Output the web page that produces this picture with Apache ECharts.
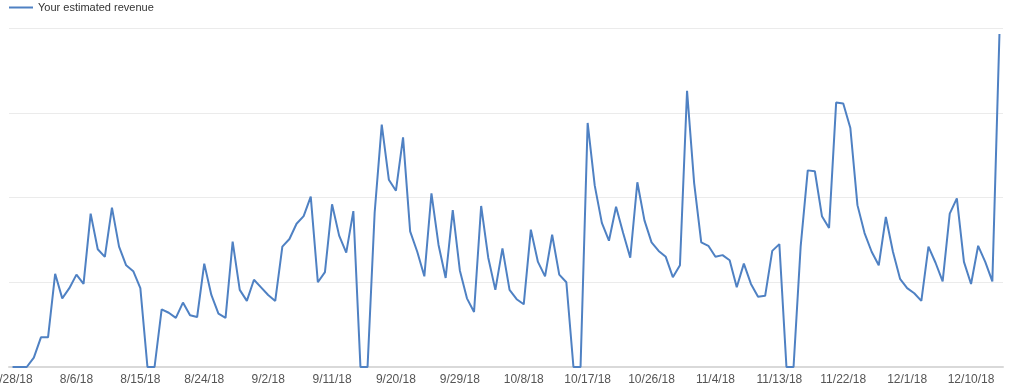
<!DOCTYPE html>
<html>
<head>
<meta charset="utf-8">
<script src="https://cdn.jsdelivr.net/npm/echarts@6/dist/echarts.min.js"></script>
<style>
html,body{margin:0;padding:0;background:#fff;}
#chart{width:1027px;height:390px;}
</style>
</head>
<body>
<div id="chart"></div>
<script>
var seriesName = 'Your estimated revenue';
var dates = [
'7/28/18','7/29/18','7/30/18','7/31/18',
'8/1/18','8/2/18','8/3/18','8/4/18','8/5/18','8/6/18','8/7/18','8/8/18','8/9/18','8/10/18','8/11/18','8/12/18','8/13/18','8/14/18','8/15/18','8/16/18','8/17/18','8/18/18','8/19/18','8/20/18','8/21/18','8/22/18','8/23/18','8/24/18','8/25/18','8/26/18','8/27/18','8/28/18','8/29/18','8/30/18','8/31/18',
'9/1/18','9/2/18','9/3/18','9/4/18','9/5/18','9/6/18','9/7/18','9/8/18','9/9/18','9/10/18','9/11/18','9/12/18','9/13/18','9/14/18','9/15/18','9/16/18','9/17/18','9/18/18','9/19/18','9/20/18','9/21/18','9/22/18','9/23/18','9/24/18','9/25/18','9/26/18','9/27/18','9/28/18','9/29/18','9/30/18',
'10/1/18','10/2/18','10/3/18','10/4/18','10/5/18','10/6/18','10/7/18','10/8/18','10/9/18','10/10/18','10/11/18','10/12/18','10/13/18','10/14/18','10/15/18','10/16/18','10/17/18','10/18/18','10/19/18','10/20/18','10/21/18','10/22/18','10/23/18','10/24/18','10/25/18','10/26/18','10/27/18','10/28/18','10/29/18','10/30/18','10/31/18',
'11/1/18','11/2/18','11/3/18','11/4/18','11/5/18','11/6/18','11/7/18','11/8/18','11/9/18','11/10/18','11/11/18','11/12/18','11/13/18','11/14/18','11/15/18','11/16/18','11/17/18','11/18/18','11/19/18','11/20/18','11/21/18','11/22/18','11/23/18','11/24/18','11/25/18','11/26/18','11/27/18','11/28/18','11/29/18','11/30/18',
'12/1/18','12/2/18','12/3/18','12/4/18','12/5/18','12/6/18','12/7/18','12/8/18','12/9/18','12/10/18','12/11/18','12/12/18','12/13/18','12/14/18'
];
var revenue = [
0,0,0,11,35,35,110,81,93,109,
98,181,139,130,188,142,120,113,93,0,
0,68,64,58,76,61,59,122,85,63,
58,148,91,78,103,94,85,78,142,151,
169,178,201,100,112,192,155,135,184,0,
0,182,286,221,208,271,160,136,107,205,
144,105,185,114,81,65,190,129,91,140,
91,80,74,162,124,107,156,109,100,0,
0,288,214,170,149,189,158,129,218,173,
147,137,130,106,120,326,217,147,143,130,
132,126,94,122,98,83,84,137,145,0,
0,142,232,231,178,164,312,311,282,191,
158,136,120,177,136,104,93,87,78,142,
123,101,181,199,124,98,143,124,101,393
];
var yMax = 400, yStep = 100;

var chart = echarts.init(document.getElementById('chart'), null, {renderer:'canvas'});
chart.setOption({
  animation: false,
  backgroundColor: '#ffffff',
  legend: {
    left: 4, top: -3,
    itemWidth: 24, itemHeight: 2, itemGap: 5,
    icon: 'rect',
    textStyle: {fontFamily: 'Arial, "Liberation Sans", sans-serif', fontSize: 11, color: '#333'},
    data: [seriesName]
  },
  grid: {left: 9, right: 24, top: 28, bottom: 23, containLabel: false, outerBoundsMode: 'none'},
  xAxis: {
    type: 'category',
    data: dates,
    boundaryGap: true,
    axisLine: {show: true, lineStyle: {color: '#d9d9d9', width: 2}},
    axisTick: {show: false},
    axisLabel: {
      interval: 8,
      showMinLabel: true,
      hideOverlap: false,
      color: '#555',
      fontSize: 12,
      fontFamily: 'Arial, "Liberation Sans", sans-serif',
      margin: 7
    },
    splitLine: {show: false}
  },
  yAxis: {
    type: 'value',
    min: 0, max: yMax, interval: yStep,
    axisLine: {show: false},
    axisTick: {show: false},
    axisLabel: {show: false},
    splitLine: {show: true, lineStyle: {color: '#ebebeb', width: 1}}
  },
  series: [{
    name: seriesName,
    type: 'line',
    data: revenue,
    showSymbol: false,
    symbol: 'none',
    lineStyle: {color: '#4f81c3', width: 2},
    itemStyle: {color: '#4f81c3'}
  }]
});
</script>
</body>
</html>
